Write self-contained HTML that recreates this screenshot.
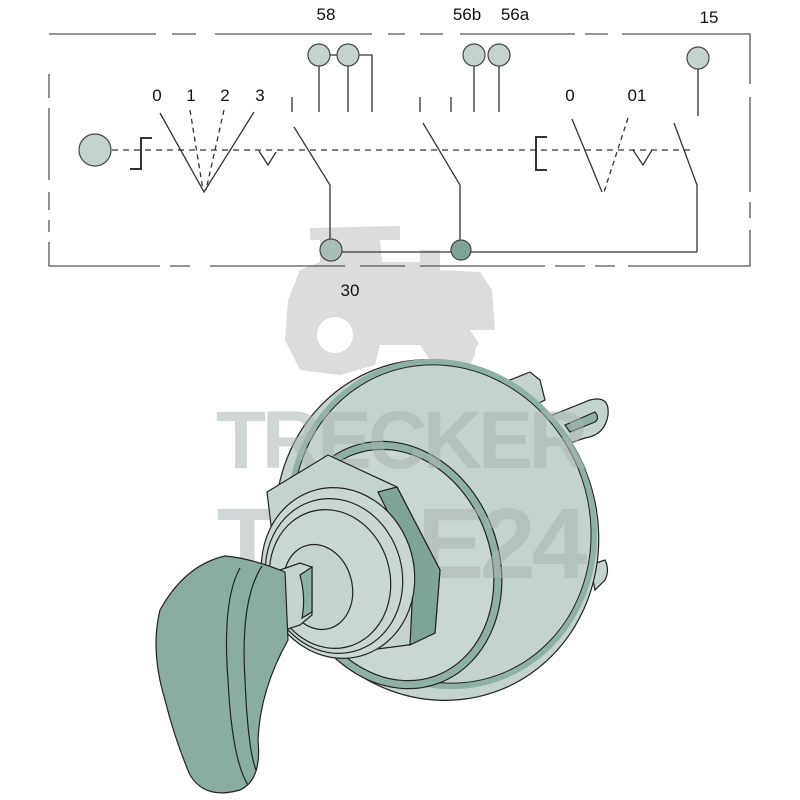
<!DOCTYPE html>
<html><head><meta charset="utf-8"><style>
html,body{margin:0;padding:0;background:#fff;}
svg{display:block;}
text{font-family:"Liberation Sans",sans-serif;}
</style></head><body>
<svg width="800" height="800" viewBox="0 0 800 800" xmlns="http://www.w3.org/2000/svg">
<!-- watermark -->
<g fill="#dcdcdc">
<path d="M310 228 L400 226 L400 240 L380 240 L382 262 L420 262 L420 250 L440 250 L440 270 L480 272 L492 290 L495 330 L470 330 L480 345 L470 365 L430 360 L420 345 L380 345 L375 365 L340 375 L300 370 L285 340 L288 300 L300 270 L320 262 L320 240 L310 240 Z"/>
<circle cx="335" cy="335" r="18" fill="#fff"/>
<circle cx="485" cy="352" r="10" fill="#fff"/>
</g>

<!-- schematic box -->
<g stroke="#555" stroke-width="1.3" fill="none">
<path d="M49 34 H156 M172 34 H196 M215 34 H372 M388 34 H405 M420 34 H443 M460 34 H575 M585 34 H608 M622 34 H750 V84 M750 97 V192 M750 202 V218 M750 230 V266 H628 M615 266 H595 M585 266 H555 M545 266 H420 M405 266 H360 M345 266 H210 M190 266 H170 M160 266 H49 V242 M49 232 V220 M49 210 V192 M49 180 V108 M49 98 V74"/>
</g>
<g stroke="#333" stroke-width="1.3" fill="none">
<line x1="112" y1="150" x2="690" y2="150" stroke-dasharray="6,5"/>
<polyline points="130,169 141,169 141,138 152,138" stroke-width="2"/>
<polyline points="160,113 204,192 254,112"/>
<line x1="190" y1="110" x2="203" y2="190" stroke-dasharray="5,4"/>
<line x1="224" y1="110" x2="206" y2="190" stroke-dasharray="5,4"/>
<polyline points="259,151 268,165 276,152"/>
<line x1="292" y1="97" x2="292" y2="112"/>
<line x1="319" y1="66" x2="319" y2="112"/>
<line x1="348" y1="66" x2="348" y2="112"/>
<line x1="330" y1="55" x2="337" y2="55"/>
<polyline points="359,55 372,55 372,112"/>
<polyline points="294,127 330,185 330,240"/>
<line x1="342" y1="252" x2="697" y2="252"/>
<line x1="420" y1="97" x2="420" y2="112"/>
<line x1="451" y1="97" x2="451" y2="112"/>
<line x1="474" y1="66" x2="474" y2="112"/>
<line x1="499" y1="66" x2="499" y2="112"/>
<polyline points="423,123 460,185 460,240"/>
<polyline points="547,137 536,137 536,170 547,170" stroke-width="2"/>
<polyline points="572,119 602,192"/>
<line x1="628" y1="118" x2="604" y2="192" stroke-dasharray="5,4"/>
<polyline points="633,150 643,165 652,150"/>
<line x1="698" y1="69" x2="698" y2="116"/>
<polyline points="674,123 697,185 697,252"/>
</g>
<g stroke="#444" stroke-width="1.2" fill="#c5d3cf">
<circle cx="95" cy="150" r="16"/>
<circle cx="319" cy="55" r="11"/>
<circle cx="348" cy="55" r="11"/>
<circle cx="474" cy="55" r="11"/>
<circle cx="499" cy="55" r="11"/>
<circle cx="698" cy="58" r="11"/>
<circle cx="331" cy="250" r="11" fill="#a9bdb6"/>
<circle cx="461" cy="250" r="10" fill="#7fa395"/>
</g>
<g font-size="17" fill="#111" text-anchor="middle">
<text x="326" y="20">58</text>
<text x="467" y="20">56b</text>
<text x="515" y="20">56a</text>
<text x="709" y="23">15</text>
<text x="157" y="101">0</text>
<text x="191" y="101">1</text>
<text x="225" y="101">2</text>
<text x="260" y="101">3</text>
<text x="570" y="101">0</text>
<text x="637" y="101">01</text>
<text x="350" y="296">30</text>
</g>

<!-- switch body -->
<g stroke="#222" stroke-width="1.2">
<path d="M505 382 L530 372 L540 380 L545 400 L525 410 Z" fill="#c5d3cf"/>
<path d="M540 420 L590 400 Q610 395 608 415 Q605 435 585 438 L555 448 Z" fill="#c5d3cf"/>
<path d="M565 425 L595 412 Q600 418 595 422 L570 432 Z" fill="#8fb0a5"/>
<path d="M590 565 L605 560 Q610 570 605 580 L595 590 Z" fill="#c5d3cf"/>
<ellipse cx="437" cy="530" rx="160" ry="172" transform="rotate(-22 437 530)" fill="#c5d3cf"/>
<ellipse cx="442" cy="524" rx="150" ry="164" transform="rotate(-22 442 524)" fill="none" stroke="#8fb0a5" stroke-width="6"/>
<ellipse cx="442" cy="524" rx="147" ry="161" transform="rotate(-22 442 524)" fill="none" stroke="#222" stroke-width="1"/>
<ellipse cx="395" cy="565" rx="100" ry="122" transform="rotate(-20 395 565)" fill="#c9d6d2" stroke="#8fb0a5" stroke-width="7"/>
<ellipse cx="395" cy="565" rx="104" ry="126" transform="rotate(-20 395 565)" fill="none"/>
<ellipse cx="395" cy="565" rx="96" ry="118" transform="rotate(-20 395 565)" fill="none"/>
</g>
<text x="400" y="468" font-size="82" font-weight="bold" fill="#aab5b2" fill-opacity="0.55" text-anchor="middle" letter-spacing="-4" font-family="Liberation Sans">TRECKER</text>
<text x="400" y="578" font-size="100" font-weight="bold" fill="#aab5b2" fill-opacity="0.55" text-anchor="middle" letter-spacing="-4" font-family="Liberation Sans">TEILE24</text>
<g stroke="#222" stroke-width="1.2">
<path d="M267 492 L328 455 L397 487 L440 570 L435 633 L408 645 L330 655 L280 600 Z" fill="#c5d3cf"/>
<path d="M378 492 L397 487 L440 570 L435 633 L410 645 L414 565 Z" fill="#7fa395"/>
<ellipse cx="338" cy="573" rx="76" ry="86" transform="rotate(-15 338 573)" fill="#c9d6d2"/>
<ellipse cx="334" cy="576" rx="68" ry="78" transform="rotate(-15 334 576)" fill="none"/>
<ellipse cx="330" cy="579" rx="60" ry="70" transform="rotate(-15 330 579)" fill="none"/>
<ellipse cx="318" cy="587" rx="34" ry="43" transform="rotate(-15 318 587)" fill="#c5d3cf"/>
<path d="M280 570 L300 563 L312 567 L312 615 L300 625 L285 630 Z" fill="#c5d3cf"/>
<path d="M300 575 L312 567 L312 612 L302 618 Q306 598 300 575 Z" fill="#8fb0a5"/>
<path d="M225 556 Q250 558 285 572 L288 640 Q260 690 258 740 Q262 780 240 790 Q205 800 190 775 Q175 740 165 700 Q150 650 160 610 Q185 565 225 556 Z" fill="#8aaca1"/>
<path d="M240 568 Q222 600 228 680 Q232 760 248 785" fill="none"/>
<path d="M262 566 Q240 600 245 680 Q248 750 256 770" fill="none"/>
</g>
</svg>
</body></html>
